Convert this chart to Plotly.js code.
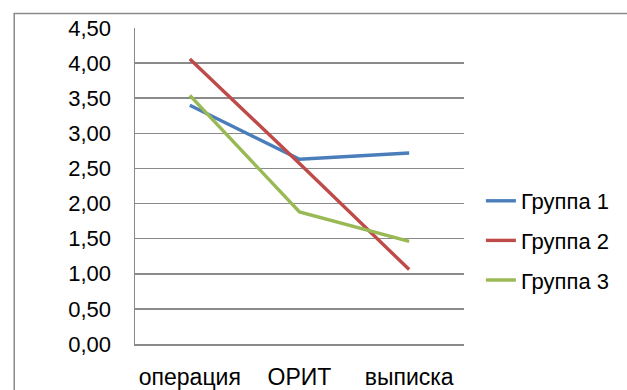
<!DOCTYPE html>
<html>
<head>
<meta charset="utf-8">
<script src="https://cdn.plot.ly/plotly-3.0.1.min.js"></script>
<style>
  html, body { margin: 0; padding: 0; background: #fff; }
  #chart { width: 627px; height: 390px; }
</style>
</head>
<body>
<div id="chart"></div>
<script>
// Stages of observation
const stages = ['операция', 'ОРИТ', 'выписка'];

// Mean scores per group
const group1 = [3.40, 2.63, 2.72];
const group2 = [4.06, 2.57, 1.06];
const group3 = [3.54, 1.88, 1.46];

const seriesNames = ['Группа 1', 'Группа 2', 'Группа 3'];
const seriesColors = ['#4a7ebb', '#be4b48', '#98b954'];

const fontFamily = 'Liberation Sans';

const traces = [group1, group2, group3].map((vals, i) => ({
  type: 'scatter',
  mode: 'lines',
  x: stages,
  y: vals,
  name: seriesNames[i],
  legendgroup: 'g' + i,
  line: { color: seriesColors[i], width: 3.4 },
  hoverinfo: 'skip'
}));

// pixel -> paper coordinate helpers for the outer frame and legend
const px2x = px => (px - 135) / 331;
const px2y = py => (344 - py) / 316;
const frameColor = '#8a8a8a';

const layout = {
  width: 627,
  height: 390,
  margin: { l: 135, r: 161, t: 28, b: 46 },
  paper_bgcolor: '#ffffff',
  plot_bgcolor: '#ffffff',
  separators: ', ',
  showlegend: true,
  font: { family: fontFamily, color: '#000000', size: 20 },
  xaxis: {
    type: 'category',
    range: [-0.5, 2.5],
    showgrid: false,
    zeroline: false,
    showline: true,
    linecolor: '#8a8a8a',
    linewidth: 1.5,
    ticks: '',
    ticklabelstandoff: 12,
    tickfont: { family: fontFamily, size: 23, color: '#000' },
    fixedrange: true
  },
  yaxis: {
    range: [0, 4.5],
    dtick: 0.5,
    tick0: 0,
    tickformat: '.2f',
    showgrid: true,
    gridcolor: '#8a8a8a',
    gridwidth: 1.5,
    zeroline: false,
    showline: true,
    linecolor: '#8a8a8a',
    linewidth: 1.5,
    ticks: '',
    ticklabelstandoff: 18,
    tickfont: { family: fontFamily, size: 22, color: '#000' },
    fixedrange: true
  },
  legend: {
    x: px2x(483),
    y: px2y(180),
    xanchor: 'left',
    yanchor: 'top',
    traceorder: 'grouped',
    tracegroupgap: 8,
    font: { family: fontFamily, size: 22, color: '#000' },
    bgcolor: 'rgba(0,0,0,0)',
    itemwidth: 30
  },
  shapes: [
    { type: 'line', xref: 'paper', yref: 'paper',
      x0: px2x(13), x1: px2x(640), y0: px2y(13.5), y1: px2y(13.5),
      line: { color: frameColor, width: 1.5 } },
    { type: 'line', xref: 'paper', yref: 'paper',
      x0: px2x(13.5), x1: px2x(13.5), y0: px2y(13), y1: px2y(400),
      line: { color: frameColor, width: 1.5 } }
  ]
};

Plotly.newPlot('chart', traces, layout, { staticPlot: true, displayModeBar: false });
</script>
</body>
</html>
